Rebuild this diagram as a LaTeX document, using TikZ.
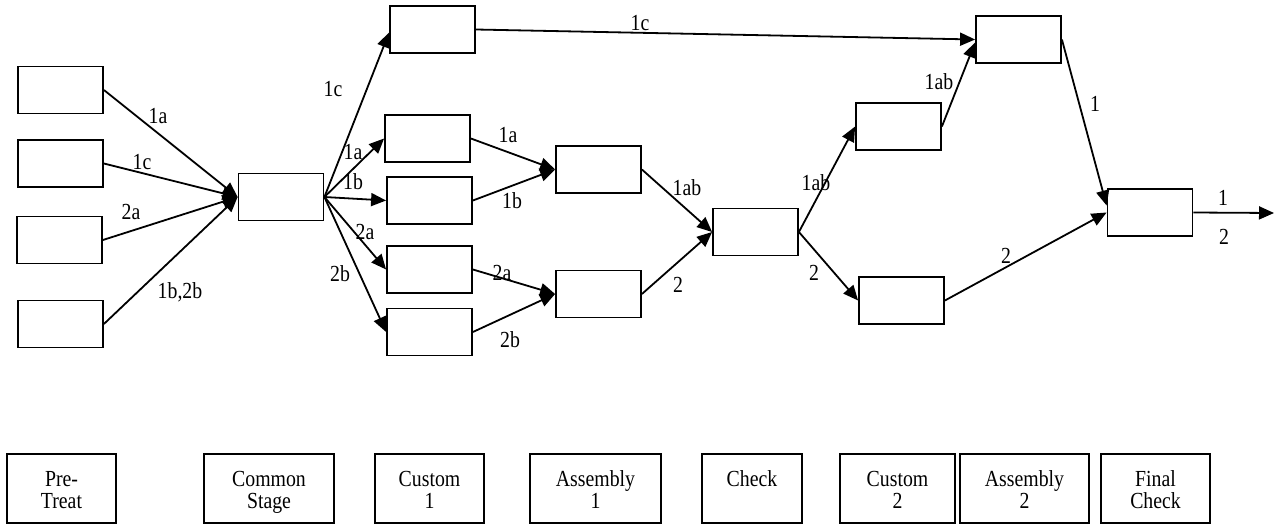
\documentclass[tikz,border=0pt]{standalone}
\usepackage{fontspec}
\setmainfont[FakeStretch=0.86]{Liberation Serif}
\usetikzlibrary{arrows.meta}
\newcommand{\firstline}{\rule{0pt}{17pt}}
\begin{document}
\begin{tikzpicture}[x=1pt,y=-1pt,
  stage/.style={draw, line width=1.8pt, minimum width=85pt, minimum height=47pt, inner sep=0pt},
  flow/.style={line width=1.8pt, -{Triangle[length=15pt,width=13pt]}},
  tag/.style={inner sep=0pt, font=\fontsize{23}{22}\selectfont},
  legend/.style={draw, line width=1.8pt, minimum height=69pt, anchor=north, inner sep=0pt},
  legtext/.style={anchor=north, align=center, inner sep=0pt, font=\fontsize{23}{22}\selectfont}]
\useasboundingbox (0,0) rectangle (1276,524);

% process stages
\node[stage] (A1) at (60.5,90) {};
\node[stage] (A2) at (60.5,163.5) {};
\node[stage] (A3) at (59.5,240) {};
\node[stage] (A4) at (60.5,324) {};
\node[stage] (B) at (281,197) {};
\node[stage] (C1c) at (432.5,29.5) {};
\node[stage] (C1a) at (427.5,138.5) {};
\node[stage] (C1b) at (429.5,200.5) {};
\node[stage] (C2a) at (429.5,269.5) {};
\node[stage] (C2b) at (429.5,332) {};
\node[stage] (D1) at (598.5,169.5) {};
\node[stage] (D2) at (598.5,294) {};
\node[stage] (E) at (755.5,232) {};
\node[stage] (F1) at (898.5,126.5) {};
\node[stage] (F2) at (901.5,300.5) {};
\node[stage] (G) at (1018.5,39.5) {};
\node[stage] (H) at (1150,212.5) {};
\coordinate (out) at (1274,213);

% flow labels
\node[tag] (l1) at (158,116) {1a};
\node[tag] (l2) at (142,162) {1c};
\node[tag] (l3) at (131,212) {2a};
\node[tag] (l4) at (180,292) {1b,2b};
\node[tag] (l5) at (333,89) {1c};
\node[tag] (l6) at (640,23) {1c};
\node[tag] (l7) at (353,152) {1a};
\node[tag] (l8) at (353,182) {1b};
\node[tag] (l9) at (365,232) {2a};
\node[tag] (l10) at (340,274) {2b};
\node[tag] (l11) at (508,135) {1a};
\node[tag] (l12) at (512,201) {1b};
\node[tag] (l13) at (502,273) {2a};
\node[tag] (l14) at (510,340) {2b};
\node[tag] (l15) at (687,188) {1ab};
\node[tag] (l16) at (678,285) {2};
\node[tag] (l17) at (816,183) {1ab};
\node[tag] (l18) at (814,273) {2};
\node[tag] (l19) at (939,82) {1ab};
\node[tag] (l20) at (1095,104) {1};
\node[tag] (l21) at (1006,256) {2};
\node[tag] (l22) at (1223,198) {1};
\node[tag] (l23) at (1224,237) {2};

% connectors
\draw[flow] (A1.east) -- (B.west);
\draw[flow] (A2.east) -- (B.west);
\draw[flow] (A3.east) -- (B.west);
\draw[flow] (A4.east) -- (B.west);
\draw[flow] (B.east) -- ([yshift=-3pt]C1c.west);
\draw[flow] (B.east) -- (C1a.west);
\draw[flow] (B.east) -- (C1b.west);
\draw[flow] (B.east) -- (C2a.west);
\draw[flow] (B.east) -- (C2b.west);
\draw[flow] (C1a.east) -- (D1.west);
\draw[flow] (C1b.east) -- (D1.west);
\draw[flow] (C2a.east) -- (D2.west);
\draw[flow] (C2b.east) -- (D2.west);
\draw[flow] (D1.east) -- (E.west);
\draw[flow] (D2.east) -- (E.west);
\draw[flow] (E.east) -- (F1.west);
\draw[flow] (E.east) -- (F2.west);
\draw[flow] (C1c.east) -- (G.west);
\draw[flow] (F1.east) -- ([yshift=-3pt]G.west);
\draw[flow] (G.east) -- ([yshift=7pt]H.west);
\draw[flow] (F2.east) -- (H.west);
\draw[flow] (H.east) -- (out);

% stage legend
\node[legend, minimum width=109pt] (k1) at (61.5,453) {};
\node[legtext] (t1) at ([yshift=-16pt]k1.north) {\firstline Pre-\\Treat};
\node[legend, minimum width=130pt] (k2) at (269,453) {};
\node[legtext] (t2) at ([yshift=-16pt]k2.north) {\firstline Common\\Stage};
\node[legend, minimum width=109pt] (k3) at (429.5,453) {};
\node[legtext] (t3) at ([yshift=-16pt]k3.north) {\firstline Custom\\1};
\node[legend, minimum width=131pt] (k4) at (595.5,453) {};
\node[legtext] (t4) at ([yshift=-16pt]k4.north) {\firstline Assembly\\1};
\node[legend, minimum width=100pt] (k5) at (752,453) {};
\node[legtext] (t5) at ([yshift=-16pt]k5.north) {\firstline Check};
\node[legend, minimum width=115pt] (k6) at (897.5,453) {};
\node[legtext] (t6) at ([yshift=-16pt]k6.north) {\firstline Custom\\2};
\node[legend, minimum width=129pt] (k7) at (1024.5,453) {};
\node[legtext] (t7) at ([yshift=-16pt]k7.north) {\firstline Assembly\\2};
\node[legend, minimum width=109pt] (k8) at (1155.5,453) {};
\node[legtext] (t8) at ([yshift=-16pt]k8.north) {\firstline Final\\Check};
\end{tikzpicture}
\end{document}
